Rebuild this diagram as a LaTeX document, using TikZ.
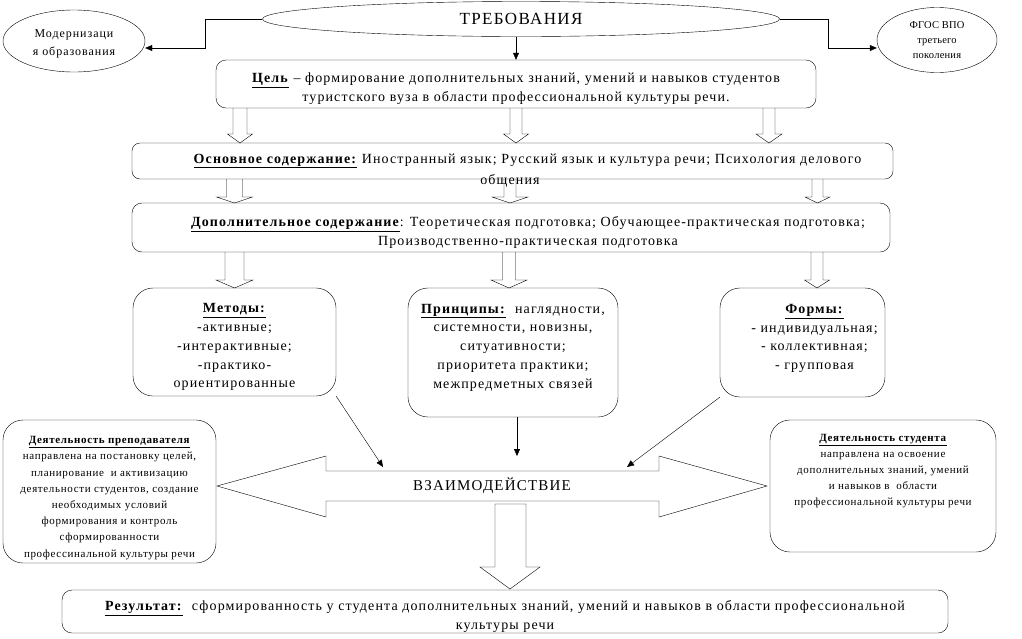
\documentclass[tikz,border=0pt]{standalone}
\usepackage{fontspec}
\setmainfont{Liberation Serif}[LetterSpace=8]
\usetikzlibrary{shapes.geometric,arrows.meta}

\begin{document}
\begin{tikzpicture}[x=1pt, y=-1pt,
		base/.style={draw, rounded corners=10pt, align=center, inner sep=0pt},
		round/.style={base, rounded corners=20pt},
		oval/.style={draw, ellipse, align=center, inner sep=0pt},
		link/.style={-{Triangle[length=7pt, width=6pt]}, draw},
		hollow/.style={draw, line join=miter},
		bigtext/.style={font=\fontsize{14}{19}\selectfont},
		midtext/.style={font=\fontsize{14}{18.75}\selectfont},
		smalltext/.style={font=\fontsize{11}{16.2}\selectfont\addfontfeature{LetterSpace=6}}
	]
	\useasboundingbox (0,0) rectangle (1022,638);

	% top level
	\node[oval, minimum width=517, minimum height=35, font=\fontsize{17}{20}\selectfont]
		at (521,19) (treb) {ТРЕБОВАНИЯ};
	\node[oval, minimum width=142, minimum height=62, font=\fontsize{12}{18}\selectfont]
		at (74,41) (modern) {\mbox{}\\[-4.5pt]Модернизаци\\я образования};
	\node[oval, minimum width=120, minimum height=65,
		font=\fontsize{10.5}{15}\selectfont\addfontfeature{LetterSpace=2}]
		at (937,40) (fgos) {ФГОС ВПО\\третьего\\поколения};

	\coordinate (lvl) at (0,48);
	\draw[link] (treb.west) -- ++(-57,0) |- (modern.east |- lvl);
	\draw[link] (treb.east) -- ++(48,0) |- (fgos.west |- lvl);

	% content boxes
	\node[base, bigtext, minimum width=600, minimum height=48] at (516,84) (cel)
		{\mbox{}\\[1pt]\underline{\textbf{Цель}} – формирование дополнительных знаний, умений и навыков студентов\\
		туристского вуза в области профессиональной культуры речи.};
	\draw[link] (treb.south -| cel.north) -- (cel.north);

	\node[base, bigtext, rounded corners=8pt, minimum width=761, minimum height=36] at (512.5,161) (osn)
		{\hspace*{30pt}\underline{\textbf{Основное содержание:}} Иностранный язык; Русский язык и культура речи; Психология делового};
	\node[bigtext, inner sep=0pt] at (510,181) (osn-b) {общения};

	\node[base, bigtext, minimum width=758, minimum height=49] at (511,227.5) (dop)
		{\mbox{}\\[1pt]\hspace*{34pt}\underline{\textbf{Дополнительное содержание}}: Теоретическая подготовка; Обучающее-практическая подготовка;\\
		\hspace*{34pt}Производственно-практическая подготовка};

	\foreach \x/\s/\h in {240/7/12.5, 516/6/12.5, 769/6/13}
		\draw[hollow] ({\x-\s},108) -- ({\x-\s},134) -- ({\x-\h},134) -- (\x,143)
			-- ({\x+\h},134) -- ({\x+\s},134) -- ({\x+\s},108);
	\foreach \x/\s/\h in {234.5/8/18, 510/6/18, 817.5/5.5/12.5}
		\draw[hollow] ({\x-\s},179) -- ({\x-\s},197) -- ({\x-\h},197) -- (\x,203)
			-- ({\x+\h},197) -- ({\x+\s},197) -- ({\x+\s},179);
	\foreach \x/\s/\h in {234.5/9.5/18.5, 509/6.5/18, 817/6/12.5}
		\draw[hollow] ({\x-\s},252) -- ({\x-\s},280) -- ({\x-\h},280) -- (\x,288)
			-- ({\x+\h},280) -- ({\x+\s},280) -- ({\x+\s},252);

	% methods, principles, forms
	\node[round, midtext, minimum width=203, minimum height=108] at (234.5,342) (metody)
		{\mbox{}\\[1pt]\underline{\textbf{Методы:}}\\-активные;\\-интерактивные;\\-практико-\\ориентированные};
	\node[round, midtext, minimum width=210, minimum height=129] at (513,352.5) (princ)
		{\underline{\textbf{Принципы:}}~ наглядности,\\системности, новизны,\\ситуативности;\\приоритета практики;\\межпредметных связей\\[-5.75pt]\mbox{}};
	\node[round, midtext, minimum width=165, minimum height=109] at (802.5,342.5) (formy)
		{\hspace*{24pt}\underline{\textbf{Формы:}}\\\hspace*{24pt}- индивидуальная;\\\hspace*{24pt}- коллективная;\\\hspace*{24pt}- групповая\\[-7.75pt]\mbox{}};

	% interaction
	\node[font=\fontsize{15}{18}\selectfont, inner sep=0pt] at (492,486) (vz) {ВЗАИМОДЕЙСТВИЕ};
	\draw[hollow] (217,486) -- (326,456) -- (326,471) -- (659,471) -- (659,456) -- (767,486)
		-- (659,517) -- (659,501) -- (326,501) -- (326,517) -- cycle;

	\coordinate (vzl) at (383,467);
	\coordinate (vzm) at (517,456);
	\coordinate (vzr) at (627,467);
	\draw[link] (metody.south east) -- (vzl);
	\draw[link] (princ.south -| vzm) -- (vzm);
	\draw[link] (formy.south west) -- (vzr);

	\node[round, smalltext, minimum width=213, minimum height=143] at (109.5,491.5) (prep)
		{\mbox{}\\[4pt]\underline{\textbf{Деятельность преподавателя}}\\направлена на постановку целей,\\планирование~ и активизацию\\деятельности студентов, создание\\необходимых условий\\формирования и контроль\\сформированности\\профессинальной культуры речи};
	\node[round, smalltext, minimum width=226, minimum height=132] at (883,486) (stud)
		{\underline{\textbf{Деятельность студента}}\\направлена на освоение\\дополнительных знаний, умений\\и навыков в~ области\\профессиональной культуры речи\\\mbox{}\\\mbox{}};

	% result
	\draw[hollow] (495,504) -- (526,504) -- (526,567) -- (540,567) -- (510,589) -- (480,567)
		-- (495,567) -- cycle;
	\node[base, bigtext, minimum width=886, minimum height=43] at (505,611.5) (rez)
		{\mbox{}\\[1pt]\underline{\textbf{Результат:}}~ сформированность у студента дополнительных знаний, умений и навыков в области профессиональной\\
		культуры речи};

\end{tikzpicture}
\end{document}
